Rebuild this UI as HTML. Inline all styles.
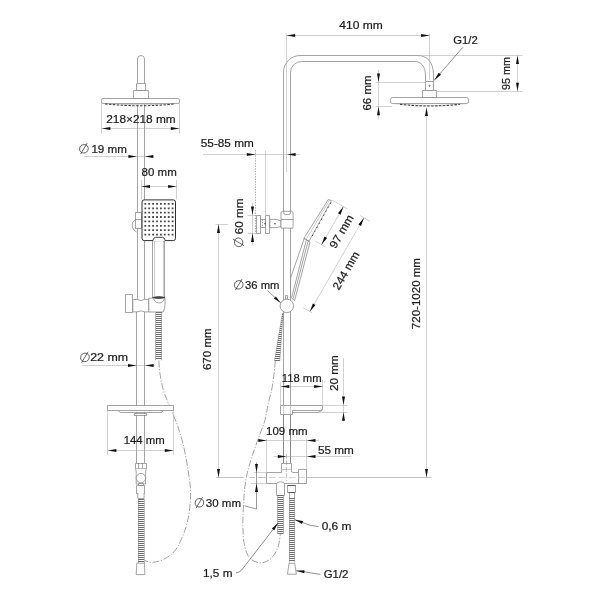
<!DOCTYPE html>
<html><head><meta charset="utf-8"><title>Shower system dimensions</title>
<style>
html,body{margin:0;padding:0;background:#fff;}
body{width:600px;height:600px;overflow:hidden;font-family:"Liberation Sans",sans-serif;}
svg{display:block;filter:blur(0.32px);}
text{font-family:"Liberation Sans",sans-serif;fill:#1c1c1c;stroke:#1c1c1c;stroke-width:0.22;}
.o{fill:none;stroke:#7c7c7c;stroke-width:0.7;}
.of{fill:#fff;stroke:#7c7c7c;stroke-width:0.7;stroke-linejoin:round;}
.ol{fill:none;stroke:#a8a8a8;stroke-width:0.6;}
.hd{fill:#fff;stroke:#2e2e2e;stroke-width:1.0;}
.hdl{fill:#fff;stroke:#2e2e2e;stroke-width:0.9;}
.rim{fill:#444;stroke:#333;stroke-width:0.6;}
.dot{fill:#484848;}
.pin{fill:#333;}
.noz{fill:none;stroke:#3a3a3a;stroke-width:1.05;stroke-dasharray:2.4 1.5;}
.noz2{fill:none;stroke:#333;stroke-width:0.9;stroke-dasharray:1.4 3.2;}
.c{fill:none;stroke:#6c6c6c;stroke-width:1.0;}
.cs{fill:none;stroke:#777;stroke-width:0.5;}
.d{fill:none;stroke:#a2a2a2;stroke-width:0.5;}
.d2{fill:none;stroke:#a2a2a2;stroke-width:0.5;}
.dl{fill:none;stroke:#555;stroke-width:0.6;}
.ld{fill:none;stroke:#444;stroke-width:0.6;}
.ref{fill:none;stroke:#b0b0b0;stroke-width:0.55;stroke-dasharray:7 3;}
.d3{fill:none;stroke:#979797;stroke-width:0.6;}
.ctr{fill:none;stroke:#8a8a8a;stroke-width:0.5;stroke-dasharray:5 1.5;}
.dash{fill:none;stroke:#666;stroke-width:0.6;stroke-dasharray:7 1.6 1.2 1.6;}
.dot2{fill:none;stroke:#777;stroke-width:0.6;stroke-dasharray:1.4 1.2;}
.ar{fill:#111;stroke:none;}
.hv{fill:none;stroke:#555;stroke-width:1;}
.dia{fill:none;stroke:#333;stroke-width:0.75;}
</style></head>
<body>
<svg width="600" height="600" viewBox="0 0 600 600">
<rect x="0" y="0" width="600" height="600" fill="#fff"/>
<line class="o" x1="137.5" y1="104.0" x2="137.5" y2="299.4" />
<line class="o" x1="144.5" y1="104.0" x2="144.5" y2="299.4" />
<line class="o" x1="136.5" y1="311.9" x2="136.5" y2="463.1" />
<line class="o" x1="144.5" y1="311.9" x2="144.5" y2="463.1" />
<path class="o" d="M137.5,83 V59 A3.5,3.5 0 0 1 144.5,59 V83" />
<rect class="of" x="136.5" y="83.5" width="9.0" height="7.0" rx="0" />
<rect class="of" x="133.5" y="90.5" width="15.0" height="8.0" rx="0" />
<rect class="of" x="101.5" y="98.5" width="78.0" height="5.0" rx="1.6" />
<path class="ol" d="M102.4,103.4 Q140.5,106.4 178.6,103.4" />
<path class="noz" d="M105,103.9 Q140.5,107.6 175,103.9" />
<rect class="of" x="152.5" y="240.5" width="12.0" height="57.0" rx="0" />
<line class="ol" x1="154.5" y1="241.0" x2="154.5" y2="296.5" />
<line class="ol" x1="163.5" y1="241.0" x2="163.5" y2="296.5" />
<rect class="of" x="135.5" y="212.5" width="6.0" height="16.0" rx="0" />
<line class="o" x1="135.2" y1="219.5" x2="141.5" y2="219.5" />
<path class="o" d="M135.5,219.5 Q132.1,221.6 132.1,225 Q132.2,229.6 136.6,232" />
<rect class="hd" x="142.0" y="199.9" width="33.5" height="40.7" rx="2.2"/>
<path class="dot" d="M144.4,203.0h1.8v1.8h-1.8zM148.3,203.0h1.8v1.8h-1.8zM152.2,203.0h1.8v1.8h-1.8zM156.1,203.0h1.8v1.8h-1.8zM160.0,203.0h1.8v1.8h-1.8zM163.9,203.0h1.8v1.8h-1.8zM167.8,203.0h1.8v1.8h-1.8zM171.7,203.0h1.8v1.8h-1.8zM144.4,207.4h1.8v1.8h-1.8zM148.3,207.4h1.8v1.8h-1.8zM152.2,207.4h1.8v1.8h-1.8zM156.1,207.4h1.8v1.8h-1.8zM160.0,207.4h1.8v1.8h-1.8zM163.9,207.4h1.8v1.8h-1.8zM167.8,207.4h1.8v1.8h-1.8zM171.7,207.4h1.8v1.8h-1.8zM144.4,211.8h1.8v1.8h-1.8zM148.3,211.8h1.8v1.8h-1.8zM152.2,211.8h1.8v1.8h-1.8zM156.1,211.8h1.8v1.8h-1.8zM160.0,211.8h1.8v1.8h-1.8zM163.9,211.8h1.8v1.8h-1.8zM167.8,211.8h1.8v1.8h-1.8zM171.7,211.8h1.8v1.8h-1.8zM144.4,216.1h1.8v1.8h-1.8zM148.3,216.1h1.8v1.8h-1.8zM152.2,216.1h1.8v1.8h-1.8zM156.1,216.1h1.8v1.8h-1.8zM160.0,216.1h1.8v1.8h-1.8zM163.9,216.1h1.8v1.8h-1.8zM167.8,216.1h1.8v1.8h-1.8zM171.7,216.1h1.8v1.8h-1.8zM144.4,220.5h1.8v1.8h-1.8zM148.3,220.5h1.8v1.8h-1.8zM152.2,220.5h1.8v1.8h-1.8zM156.1,220.5h1.8v1.8h-1.8zM160.0,220.5h1.8v1.8h-1.8zM163.9,220.5h1.8v1.8h-1.8zM167.8,220.5h1.8v1.8h-1.8zM171.7,220.5h1.8v1.8h-1.8zM144.4,224.9h1.8v1.8h-1.8zM148.3,224.9h1.8v1.8h-1.8zM152.2,224.9h1.8v1.8h-1.8zM156.1,224.9h1.8v1.8h-1.8zM160.0,224.9h1.8v1.8h-1.8zM163.9,224.9h1.8v1.8h-1.8zM167.8,224.9h1.8v1.8h-1.8zM171.7,224.9h1.8v1.8h-1.8zM144.4,229.3h1.8v1.8h-1.8zM148.3,229.3h1.8v1.8h-1.8zM152.2,229.3h1.8v1.8h-1.8zM156.1,229.3h1.8v1.8h-1.8zM160.0,229.3h1.8v1.8h-1.8zM163.9,229.3h1.8v1.8h-1.8zM167.8,229.3h1.8v1.8h-1.8zM171.7,229.3h1.8v1.8h-1.8zM144.4,233.7h1.8v1.8h-1.8zM148.3,233.7h1.8v1.8h-1.8zM152.2,233.7h1.8v1.8h-1.8zM156.1,233.7h1.8v1.8h-1.8zM160.0,233.7h1.8v1.8h-1.8zM163.9,233.7h1.8v1.8h-1.8zM167.8,233.7h1.8v1.8h-1.8zM171.7,233.7h1.8v1.8h-1.8z"/>
<path class="hdl" d="M152.6,241 Q153.4,237.3 155.6,237.3 H162.4 Q164.6,237.3 165.4,241" />
<rect class="of" x="125.5" y="294.5" width="7.0" height="18.0" rx="0" />
<path class="of" d="M132.8,299.4 H137 Q141,301.6 144.8,299.4 H148.8 V311.9 H144.8 Q141,309.8 137,311.9 H132.8 Z" />
<path class="of" d="M148.8,298.2 H165 V304 Q165,309 163.2,312 H148.8 Z" />
<path class="rim" d="M152.6,297.4 Q158.8,295.6 165.2,297.4 Q158.8,299.6 152.6,297.4 Z" />
<path class="o" d="M153.4,298.6 Q156,304.2 161,302.6 Q164,301.4 164.6,298.6" />
<path class="c" d="M155.9,312.5H161.8M155.9,314.5H161.8M155.9,316.5H161.8M155.9,318.5H161.8M155.9,320.5H161.8M155.9,322.5H161.8M155.9,324.5H161.8M155.9,326.5H161.8M155.9,328.5H161.8M155.9,330.5H161.8M155.9,332.5H161.8M155.9,334.5H161.8M155.9,336.5H161.8M155.9,338.5H161.8M155.9,340.5H161.8M155.9,342.5H161.8M155.9,344.5H161.8M155.9,346.5H161.8M155.9,348.5H161.8M155.9,350.5H161.8M155.9,352.5H161.8M155.9,354.5H161.8M155.9,356.5H161.8M155.9,358.5H161.8" />
<line class="cs" x1="155.5" y1="312.6" x2="155.5" y2="360.4" />
<line class="cs" x1="161.5" y1="312.6" x2="161.5" y2="360.4" />
<path class="dash" d="M158.8,360.5 C159.0,362.9 159.4,370.1 160.2,375.0 C160.9,379.9 162.0,385.3 163.3,390.0 C164.7,394.7 166.1,397.8 168.3,403.3 C170.5,408.9 174.2,416.4 176.7,423.3 C179.2,430.2 181.4,437.2 183.3,445.0 C185.2,452.8 186.8,462.3 188.0,470.0 C189.2,477.7 190.4,484.2 190.6,491.0 C190.8,497.8 190.3,504.5 189.4,511.0 C188.5,517.5 187.3,523.5 185.0,530.0 C182.7,536.5 179.2,545.1 175.5,550.0 C171.8,554.9 166.9,557.6 163.0,559.6 C159.1,561.6 155.0,562.1 152.0,562.3 C149.0,562.5 146.2,560.9 145.0,560.6" />
<rect class="of" x="107.5" y="405.5" width="66.0" height="5.0" rx="0" />
<path class="of" d="M118.8,411 Q119.4,412.5 121,412.5 H160.6 Q162.2,412.5 162.8,411" />
<rect class="of" x="134.5" y="413.5" width="12.0" height="2.0" rx="0" />
<rect class="of" x="135.5" y="463.5" width="11.0" height="5.0" rx="0" />
<line class="o" x1="138.5" y1="463.1" x2="138.5" y2="468.8" />
<line class="o" x1="142.5" y1="463.1" x2="142.5" y2="468.8" />
<path class="of" d="M135.6,468.8 L136.2,472 V484 H145.6 V472 L146.3,468.8" />
<circle class="of" cx="140.9" cy="478.1" r="4.7"/>
<rect class="of" x="138.5" y="483.5" width="5.0" height="2.0" rx="0" />
<rect class="of" x="136.5" y="485.5" width="8.0" height="8.0" rx="0" />
<path class="of" d="M137.8,493.1 V498.4 H144.1 V493.1" />
<path class="c" d="M138.0,499.5H144.0M138.0,501.5H144.0M138.0,503.5H144.0M138.0,505.5H144.0M138.0,507.5H144.0M138.0,509.5H144.0M138.0,511.5H144.0M138.0,513.5H144.0M138.0,515.5H144.0M138.0,517.5H144.0M138.0,519.5H144.0M138.0,521.5H144.0M138.0,523.5H144.0M138.0,525.5H144.0M138.0,527.5H144.0M138.0,529.5H144.0M138.0,531.5H144.0M138.0,533.5H144.0M138.0,535.5H144.0M138.0,537.5H144.0M138.0,539.5H144.0M138.0,541.5H144.0M138.0,543.5H144.0M138.0,545.5H144.0M138.0,547.5H144.0M138.0,549.5H144.0M138.0,551.5H144.0M138.0,553.5H144.0M138.0,555.5H144.0M138.0,557.5H144.0M138.0,559.5H144.0M138.0,561.5H144.0" />
<line class="cs" x1="138.5" y1="499.0" x2="138.5" y2="563.0" />
<line class="cs" x1="144.5" y1="499.0" x2="144.5" y2="563.0" />
<path class="of" d="M136.8,563.2 H144.4 L144.9,574.6 H136.2 Z" />
<line class="d" x1="101.5" y1="103.0" x2="101.5" y2="133.7" />
<line class="d" x1="179.5" y1="103.0" x2="179.5" y2="133.7" />
<line class="d" x1="101.5" y1="128.5" x2="179.5" y2="128.5" />
<polygon class="ar" points="101.8,128.5 110.4,127.0 110.4,130.0"/>
<polygon class="ar" points="179.4,128.5 170.8,130.0 170.8,127.0"/>
<text x="141.0" y="123.4" text-anchor="middle" font-size="11.2" textLength="69.5" lengthAdjust="spacingAndGlyphs">218×218 mm</text>
<line class="d" x1="84.5" y1="156.5" x2="153.0" y2="156.5" />
<polygon class="ar" points="137.0,156.5 128.4,158.0 128.4,155.0"/>
<polygon class="ar" points="144.8,156.5 153.4,155.0 153.4,158.0"/>
<g>
<ellipse class="dia" cx="83.9" cy="148.8" rx="4.3" ry="4.2" transform="skewX(-6)" style="transform-origin:83.9px 148.8px"/>
<line class="dia" x1="80.6" y1="154.1" x2="87.1" y2="143.2"/>
<text x="91.4" y="152.8" font-size="11.2" textLength="35.6" lengthAdjust="spacingAndGlyphs">19 mm</text>
</g>
<line class="d" x1="141.5" y1="180.0" x2="141.5" y2="199.4" />
<line class="d" x1="176.5" y1="180.0" x2="176.5" y2="199.4" />
<line class="d" x1="141.4" y1="186.5" x2="176.7" y2="186.5" />
<polygon class="ar" points="141.4,186.5 150.0,185.0 150.0,188.0"/>
<polygon class="ar" points="176.7,186.5 168.1,188.0 168.1,185.0"/>
<text x="159.2" y="175.9" text-anchor="middle" font-size="11.2" textLength="35.2" lengthAdjust="spacingAndGlyphs">80 mm</text>
<line class="d" x1="82.2" y1="365.5" x2="155.0" y2="365.5" />
<polygon class="ar" points="136.6,365.5 128.0,367.0 128.0,364.0"/>
<polygon class="ar" points="145.0,365.5 153.6,364.0 153.6,367.0"/>
<g>
<ellipse class="dia" cx="84.9" cy="357.4" rx="4.3" ry="4.2" transform="skewX(-6)" style="transform-origin:84.9px 357.4px"/>
<line class="dia" x1="81.6" y1="362.7" x2="88.1" y2="351.8"/>
<text x="90.2" y="361.4" font-size="11.2" textLength="37.9" lengthAdjust="spacingAndGlyphs">22 mm</text>
</g>
<line class="d" x1="107.5" y1="410.0" x2="107.5" y2="455.0" />
<line class="d" x1="173.5" y1="410.0" x2="173.5" y2="455.0" />
<line class="d" x1="107.5" y1="450.5" x2="173.7" y2="450.5" />
<polygon class="ar" points="107.8,450.5 116.4,449.0 116.4,452.0"/>
<polygon class="ar" points="173.4,450.5 164.8,452.0 164.8,449.0"/>
<text x="144.2" y="443.8" text-anchor="middle" font-size="11.2" textLength="41.0" lengthAdjust="spacingAndGlyphs">144 mm</text>
<path class="o" d="M283.5,463.5 V72.2 A16.7,16.7 0 0 1 300.2,55.5 H417.5 C427,55.5 433.5,62 433.5,75 V81.5" />
<path class="o" d="M290.5,463.5 V72.5 A11,11 0 0 1 301.5,61.5 H414.5 C421,61.5 425.5,66 425.5,76 V81.5" />
<rect class="of" x="425.5" y="81.5" width="8.0" height="9.0" rx="0" />
<line class="o" x1="428.6" y1="85.5" x2="430.8" y2="85.5" />
<line class="o" x1="429.5" y1="84.6" x2="429.5" y2="87.0" />
<rect class="of" x="422.5" y="90.5" width="14.0" height="7.0" rx="0" />
<rect class="of" x="390.5" y="97.5" width="78.0" height="6.0" rx="1.8" />
<path class="ol" d="M392.6,103.5 Q429.6,107.6 466.6,103.5" />
<path class="noz" d="M400,104.3 Q429.6,107.7 460,104.3" />
<line class="dot2" x1="255.5" y1="150.0" x2="255.5" y2="233.5" />
<line class="d" x1="265.5" y1="150.8" x2="265.5" y2="215.0" />
<rect class="of" x="256.5" y="215.5" width="4.0" height="18.0" rx="0" />
<rect class="of" x="260.5" y="219.5" width="5.0" height="8.0" rx="0" />
<line class="dot2" x1="262.5" y1="219.4" x2="262.5" y2="227.6" />
<rect class="of" x="265.5" y="215.5" width="4.0" height="18.0" rx="0" />
<path class="of" d="M269.8,219.4 H277 L281,221 V226.4 L277,227.6 H269.8 Z" />
<circle class="pin" cx="265.0" cy="223.7" r="0.75"/>
<circle class="pin" cx="275.0" cy="223.7" r="0.75"/>
<path class="of" d="M281.0,228.1 V213 Q281,211.3 282.6,211.3 H291.5 Q293.1,211.3 293.1,213 V228.1 Z" />
<path class="o" d="M283.8,211.3 V213.2 Q283.8,214.4 285,214.4 H289.2 Q290.4,214.4 290.4,213.2 V211.3" />
<line class="o" x1="281.0" y1="219.5" x2="293.1" y2="219.5" />
<path class="of" d="M328.4,199.4 L331.4,200.7 L308.9,241.4 L303.8,238.4 Z" />
<line class="ol" x1="329.6" y1="199.9" x2="306.0" y2="239.8" />
<path class="noz2" d="M330.9,202.6 L311.0,238.2" />
<path class="o" d="M304.0,238.3 L308.9,241.2 L307.6,243.4" />
<path class="of" d="M304.2,238.6 L290.6,278 V297 L294.6,300.6 L310.0,242.0 Z" />
<line class="o" x1="306.2" y1="240.4" x2="291.7" y2="297.4" />
<line class="o" x1="308.1" y1="241.2" x2="293.1" y2="298.8" />
<rect class="of" x="285.5" y="295.5" width="2.0" height="4.0" rx="0" />
<circle class="of" cx="286.8" cy="305.9" r="6.7"/>
<path class="c" d="M282.2,314.5H283.0M281.9,316.5H282.9M281.6,318.5H282.7M281.2,320.5H282.6M280.9,322.5H282.4M280.6,324.5H282.3M280.2,326.5H282.2M279.9,328.5H282.0M279.6,330.5H281.9M279.2,332.5H281.8M278.9,334.5H281.6M278.6,336.5H281.5M278.2,338.5H281.3M277.9,340.5H281.2M277.6,342.5H281.1M277.2,344.5H280.9M276.9,346.5H280.8M276.6,348.5H280.6M276.2,350.5H280.5M275.9,352.5H280.4M275.6,354.5H280.2M275.2,356.5H280.1M274.9,358.5H280.0M274.6,360.5H279.8" />
<path class="cs" d="M282.5,313 L274.5,360.8 M283.1,313 L279.8,360.8" />
<path class="dash" d="M275.4,360.8 C274.9,364.8 273.8,377.9 272.6,385.0 C271.4,392.1 269.6,397.5 268.3,403.3 C267.0,409.1 266.6,414.2 265.0,420.0 C263.4,425.8 260.6,432.2 258.5,438.0 C256.4,443.8 254.2,449.7 252.5,455.0 C250.8,460.3 249.3,464.7 248.0,470.0 C246.7,475.3 245.6,481.2 244.8,487.0 C244.1,492.8 243.8,499.5 243.5,505.0 C243.2,510.5 243.0,515.5 242.9,520.0 C242.8,524.5 242.9,528.2 243.1,532.0 C243.3,535.8 243.2,539.1 244.0,543.0 C244.8,546.9 246.2,552.4 248.0,555.5 C249.8,558.6 252.3,560.5 255.0,561.6 C257.7,562.8 261.1,563.2 264.0,562.4 C266.9,561.6 270.1,559.7 272.5,557.0 C274.9,554.3 277.0,549.8 278.3,546.0 C279.6,542.2 280.0,536.0 280.3,534.0" />
<path class="of" d="M280.5,405.5 H322.5 V408.6 Q322.5,410.5 320.6,410.5 H292.5 V414.5 H280.5 Z" />
<path class="o" d="M292.5,412.5 H318.3 L322.3,410.2" />
<line class="ol" x1="283.5" y1="405.0" x2="283.5" y2="414.7" />
<line class="ol" x1="290.5" y1="405.0" x2="290.5" y2="414.7" />
<line class="o" x1="283.5" y1="414.7" x2="283.5" y2="463.5" />
<line class="o" x1="290.5" y1="414.7" x2="290.5" y2="463.5" />
<path class="of" d="M266.5,472.5 H281.5 V463.5 H291.5 V471.8 L293,472.5 H298.5 V469.5 H306.5 V483.5 H266.5 Z" />
<line class="o" x1="298.5" y1="472.5" x2="298.5" y2="483.5" />
<line class="ol" x1="281.5" y1="469.5" x2="291.5" y2="469.5" />
<line class="ctr" x1="286.5" y1="453.8" x2="286.5" y2="481.0" />
<path class="of" d="M276.5,495.5 V484.4 Q276.5,481.8 280.4,481.8 Q284.5,481.8 284.5,484.4 V495.5 Z" />
<path class="c" d="M277.6,495.5H283.4M277.6,497.5H283.4M277.6,499.5H283.4M277.6,501.5H283.4M277.6,503.5H283.4M277.6,505.5H283.4M277.6,507.5H283.4M277.6,509.5H283.4M277.6,511.5H283.4M277.6,513.5H283.4M277.6,515.5H283.4M277.6,517.5H283.4M277.6,519.5H283.4M277.6,521.5H283.4M277.6,523.5H283.4M277.6,525.5H283.4M277.6,527.5H283.4M277.6,529.5H283.4M277.6,531.5H283.4M277.6,533.5H283.4" />
<line class="cs" x1="277.5" y1="495.6" x2="277.5" y2="533.8" />
<line class="cs" x1="283.5" y1="495.6" x2="283.5" y2="533.8" />
<rect class="of" x="287.5" y="485.5" width="8.0" height="7.0" rx="0" />
<path class="of" d="M289.5,492.5 V498.5 H294.5 V492.5" />
<line class="hv" x1="287.7" y1="485.5" x2="295.7" y2="485.5" />
<line class="hv" x1="288.5" y1="492.5" x2="295.0" y2="492.5" />
<path class="c" d="M289.2,498.5H294.7M289.2,500.5H294.7M289.2,502.5H294.7M289.2,504.5H294.7M289.2,506.5H294.7M289.2,508.5H294.7M289.2,510.5H294.7M289.2,512.5H294.7M289.2,514.5H294.7M289.2,516.5H294.7M289.2,518.5H294.7M289.2,520.5H294.7M289.2,522.5H294.7M289.2,524.5H294.7M289.2,526.5H294.7M289.2,528.5H294.7M289.2,530.5H294.7M289.2,532.5H294.7M289.2,534.5H294.7M289.2,536.5H294.7M289.2,538.5H294.7M289.2,540.5H294.7M289.2,542.5H294.7M289.2,544.5H294.7M289.2,546.5H294.7M289.2,548.5H294.7M289.2,550.5H294.7M289.2,552.5H294.7M289.2,554.5H294.7M289.2,556.5H294.7M289.2,558.5H294.7M289.2,560.5H294.7" />
<line class="cs" x1="289.5" y1="498.6" x2="289.5" y2="562.4" />
<line class="cs" x1="294.5" y1="498.6" x2="294.5" y2="562.4" />
<path class="of" d="M289.0,563.3 H294.8 L296.3,574.2 H287.5 Z" />
<line class="d3" x1="216.2" y1="477.5" x2="243.4" y2="477.5" />
<line class="d3" x1="249.5" y1="477.5" x2="255.0" y2="477.5" />
<line class="d3" x1="258.0" y1="477.5" x2="266.5" y2="477.5" />
<line class="ref" x1="268.5" y1="477.5" x2="305.0" y2="477.5" />
<line class="d3" x1="306.5" y1="477.5" x2="431.3" y2="477.5" />
<line class="d" x1="286.5" y1="33.3" x2="286.5" y2="172.0" />
<line class="d" x1="429.5" y1="33.3" x2="429.5" y2="80.0" />
<line class="d" x1="286.6" y1="35.5" x2="429.7" y2="35.5" />
<polygon class="ar" points="286.6,35.5 295.2,34.0 295.2,37.0"/>
<polygon class="ar" points="429.7,35.5 421.1,37.0 421.1,34.0"/>
<text x="361.0" y="28.8" text-anchor="middle" font-size="11.2" textLength="43.5" lengthAdjust="spacingAndGlyphs">410 mm</text>
<line class="d" x1="375.8" y1="82.5" x2="425.4" y2="82.5" />
<line class="d" x1="375.8" y1="106.5" x2="392.0" y2="106.5" />
<line class="d" x1="378.5" y1="70.0" x2="378.5" y2="119.2" />
<polygon class="ar" points="378.5,82.0 377.0,73.4 380.0,73.4"/>
<polygon class="ar" points="378.5,106.7 380.0,115.3 377.0,115.3"/>
<text x="371.2" y="93.0" text-anchor="middle" font-size="11.2" textLength="35.0" lengthAdjust="spacingAndGlyphs" transform="rotate(-90 371.2 93.0)">66 mm</text>
<line class="d2" x1="299.8" y1="55.5" x2="522.5" y2="55.5" />
<line class="d" x1="436.8" y1="91.5" x2="522.5" y2="91.5" />
<line class="d" x1="517.5" y1="55.5" x2="517.5" y2="91.3" />
<polygon class="ar" points="517.5,55.5 519.0,64.1 516.0,64.1"/>
<polygon class="ar" points="517.5,91.3 516.0,82.7 519.0,82.7"/>
<text x="510.0" y="73.6" text-anchor="middle" font-size="11.2" textLength="33.0" lengthAdjust="spacingAndGlyphs" transform="rotate(-90 510.0 73.6)">95 mm</text>
<text x="453.3" y="44.3" text-anchor="start" font-size="11.2" textLength="24.4" lengthAdjust="spacingAndGlyphs">G1/2</text>
<line class="ld" x1="462.8" y1="47.3" x2="434.2" y2="80.3" />
<polygon class="ar" points="434.2,80.3 438.7,72.8 441.0,74.8"/>
<line class="d" x1="203.0" y1="154.5" x2="300.0" y2="154.5" />
<polygon class="ar" points="255.4,154.5 246.8,156.0 246.8,153.0"/>
<polygon class="ar" points="287.0,154.5 295.6,153.0 295.6,156.0"/>
<text x="200.8" y="147.1" text-anchor="start" font-size="11.2" textLength="53.0" lengthAdjust="spacingAndGlyphs">55-85 mm</text>
<line class="d" x1="247.5" y1="215.5" x2="260.6" y2="215.5" />
<line class="d" x1="247.5" y1="233.5" x2="260.6" y2="233.5" />
<line class="d" x1="252.5" y1="203.0" x2="252.5" y2="245.6" />
<polygon class="ar" points="252.5,215.1 251.0,206.5 254.0,206.5"/>
<polygon class="ar" points="252.5,233.3 254.0,241.9 251.0,241.9"/>
<g transform="rotate(-90 242.6 247.0)">
<ellipse class="dia" cx="247.3" cy="243.0" rx="4.3" ry="4.2" transform="skewX(-6)" style="transform-origin:247.3px 243.0px"/>
<line class="dia" x1="244.0" y1="248.3" x2="250.5" y2="237.4"/>
<text x="255.3" y="247.0" font-size="11.2" textLength="35.8" lengthAdjust="spacingAndGlyphs">60 mm</text>
</g>
<line class="d" x1="215.6" y1="224.5" x2="228.2" y2="224.5" />
<line class="d" x1="218.5" y1="224.2" x2="218.5" y2="477.5" />
<polygon class="ar" points="218.5,224.3 220.0,232.9 217.0,232.9"/>
<polygon class="ar" points="218.5,477.5 217.0,468.9 220.0,468.9"/>
<text x="210.8" y="349.2" text-anchor="middle" font-size="11.2" textLength="41.7" lengthAdjust="spacingAndGlyphs" transform="rotate(-90 210.8 349.2)">670 mm</text>
<g>
<ellipse class="dia" cx="238.7" cy="284.8" rx="4.3" ry="4.2" transform="skewX(-6)" style="transform-origin:238.7px 284.8px"/>
<line class="dia" x1="235.4" y1="290.1" x2="241.9" y2="279.2"/>
<text x="245.1" y="288.8" font-size="11.2" textLength="34.4" lengthAdjust="spacingAndGlyphs">36 mm</text>
</g>
<line class="ld" x1="267.6" y1="290.6" x2="280.6" y2="302.8" />
<polygon class="ar" points="280.6,302.8 273.9,298.6 275.9,296.4"/>
<line class="d" x1="332.2" y1="200.1" x2="347.8" y2="209.1" />
<line class="d" x1="315.4" y1="241.2" x2="325.0" y2="246.7" />
<line class="d" x1="343.5" y1="206.6" x2="321.5" y2="244.7" />
<polygon class="ar" points="343.5,206.6 340.5,214.7 337.9,213.2"/>
<polygon class="ar" points="321.5,244.7 324.5,236.5 327.1,238.0"/>
<text x="344.8" y="233.4" text-anchor="middle" font-size="11.2" textLength="36.8" lengthAdjust="spacingAndGlyphs" transform="rotate(-60.0 344.8 233.4)">97 mm</text>
<line class="d" x1="360.1" y1="215.6" x2="370.1" y2="221.3" />
<line class="d" x1="303.4" y1="307.8" x2="312.1" y2="312.8" />
<line class="d" x1="364.0" y1="217.8" x2="309.9" y2="311.6" />
<polygon class="ar" points="364.0,217.8 361.0,226.0 358.4,224.5"/>
<polygon class="ar" points="309.9,311.6 312.9,303.4 315.5,304.9"/>
<text x="349.3" y="272.5" text-anchor="middle" font-size="11.2" textLength="42.0" lengthAdjust="spacingAndGlyphs" transform="rotate(-60.0 349.3 272.5)">244 mm</text>
<line class="d" x1="280.5" y1="382.5" x2="280.5" y2="405.0" />
<line class="d" x1="322.5" y1="380.0" x2="322.5" y2="405.0" />
<line class="d" x1="280.7" y1="386.5" x2="322.7" y2="386.5" />
<polygon class="ar" points="280.7,386.5 289.3,385.0 289.3,388.0"/>
<polygon class="ar" points="322.7,386.5 314.1,388.0 314.1,385.0"/>
<text x="301.7" y="382.0" text-anchor="middle" font-size="11.2" textLength="40.0" lengthAdjust="spacingAndGlyphs">118 mm</text>
<line class="d" x1="322.7" y1="405.5" x2="347.5" y2="405.5" />
<line class="d" x1="318.0" y1="412.5" x2="347.5" y2="412.5" />
<line class="d" x1="343.5" y1="358.3" x2="343.5" y2="421.5" />
<polygon class="ar" points="343.5,405.0 342.0,396.4 345.0,396.4"/>
<polygon class="ar" points="343.5,412.1 345.0,420.7 342.0,420.7"/>
<text x="338.3" y="373.0" text-anchor="middle" font-size="11.2" textLength="35.8" lengthAdjust="spacingAndGlyphs" transform="rotate(-90 338.3 373.0)">20 mm</text>
<line class="d" x1="266.5" y1="438.8" x2="266.5" y2="472.3" />
<line class="d" x1="306.5" y1="438.8" x2="306.5" y2="469.4" />
<line class="d" x1="258.5" y1="440.5" x2="318.8" y2="440.5" />
<polygon class="ar" points="266.9,440.5 258.3,442.0 258.3,439.0"/>
<polygon class="ar" points="306.9,440.5 315.5,439.0 315.5,442.0"/>
<text x="286.8" y="434.5" text-anchor="middle" font-size="11.2" textLength="41.5" lengthAdjust="spacingAndGlyphs">109 mm</text>
<line class="d" x1="273.8" y1="456.5" x2="351.3" y2="456.5" />
<polygon class="ar" points="286.4,456.5 277.8,458.0 277.8,455.0"/>
<polygon class="ar" points="306.9,456.5 315.5,455.0 315.5,458.0"/>
<text x="318.0" y="453.8" text-anchor="start" font-size="11.2" textLength="35.8" lengthAdjust="spacingAndGlyphs">55 mm</text>
<line class="d" x1="253.8" y1="472.5" x2="266.5" y2="472.5" />
<line class="d" x1="251.0" y1="483.5" x2="266.5" y2="483.5" />
<path class="dl" d="M256.5,462.5 V509.0 L244.4,505.8" />
<polygon class="ar" points="256.5,472.5 255.0,463.9 258.0,463.9"/>
<polygon class="ar" points="256.5,483.5 258.0,492.1 255.0,492.1"/>
<g>
<ellipse class="dia" cx="199.4" cy="502.8" rx="4.3" ry="4.2" transform="skewX(-6)" style="transform-origin:199.4px 502.8px"/>
<line class="dia" x1="196.1" y1="508.1" x2="202.6" y2="497.2"/>
<text x="205.8" y="506.8" font-size="11.2" textLength="35.2" lengthAdjust="spacingAndGlyphs">30 mm</text>
</g>
<line class="d" x1="426.5" y1="107.5" x2="426.5" y2="477.5" />
<polygon class="ar" points="426.5,107.5 428.0,116.1 425.0,116.1"/>
<polygon class="ar" points="426.5,477.5 425.0,468.9 428.0,468.9"/>
<text x="420.0" y="293.6" text-anchor="middle" font-size="11.2" textLength="71.2" lengthAdjust="spacingAndGlyphs" transform="rotate(-90 420.0 293.6)">720-1020 mm</text>
<text x="203.0" y="577.2" text-anchor="start" font-size="11.2" textLength="29.5" lengthAdjust="spacingAndGlyphs">1,5 m</text>
<path class="ld" d="M278.1,522.9 L241.7,570 Q239.5,572.6 236,572.8" />
<polygon class="ar" points="278.1,522.9 274.3,530.3 271.9,528.5"/>
<text x="321.7" y="530.1" text-anchor="start" font-size="11.2" textLength="29.7" lengthAdjust="spacingAndGlyphs">0,6 m</text>
<path class="ld" d="M294.8,519.7 L302,522.4 Q310,526 318.6,526.6" />
<polygon class="ar" points="294.8,519.7 303.0,521.1 302.0,523.9"/>
<text x="323.7" y="578.4" text-anchor="start" font-size="11.2" textLength="24.7" lengthAdjust="spacingAndGlyphs">G1/2</text>
<path class="ld" d="M296.2,570.8 L304,571.7 Q312,573.2 320.4,574.4" />
<polygon class="ar" points="296.2,570.8 304.5,570.3 304.2,573.3"/>
</svg>
</body></html>
